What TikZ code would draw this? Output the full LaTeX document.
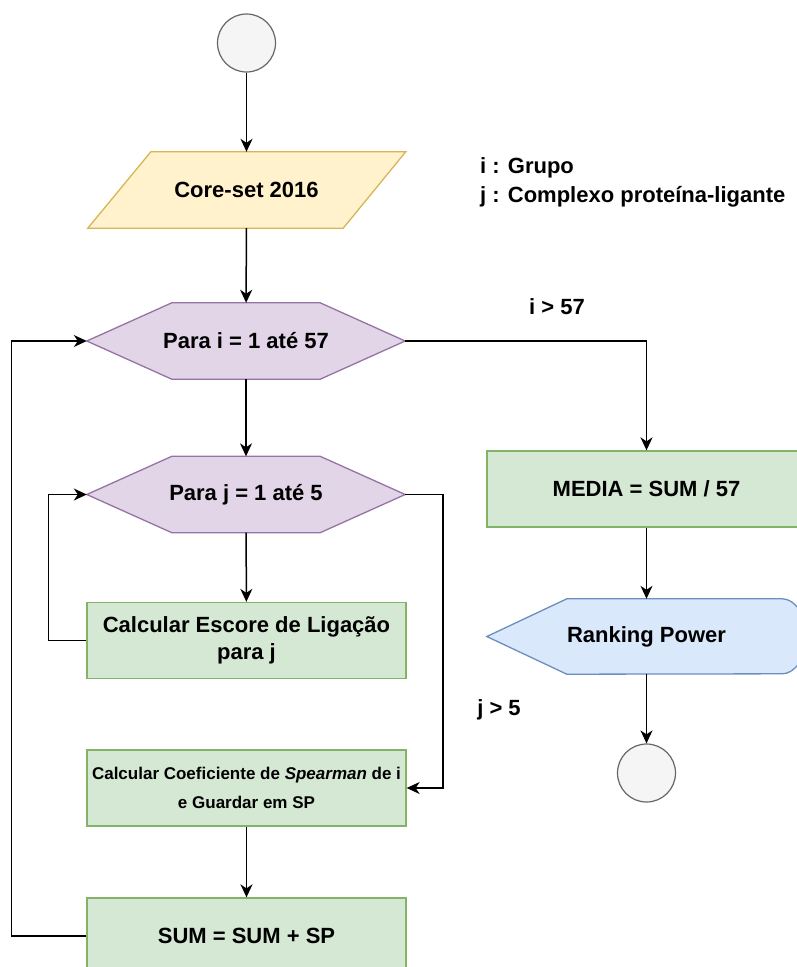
\documentclass[tikz,border=0pt]{standalone}
\usepackage{fontspec}
\setmainfont{Liberation Sans}
\usetikzlibrary{arrows.meta,backgrounds,calc}

\definecolor{termfill}{HTML}{F5F5F5}
\definecolor{termline}{HTML}{666666}
\definecolor{iofill}{HTML}{FFF2CC}
\definecolor{ioline}{HTML}{D6B656}
\definecolor{loopfill}{HTML}{E1D5E7}
\definecolor{loopline}{HTML}{9673A6}
\definecolor{procfill}{HTML}{D5E8D4}
\definecolor{procline}{HTML}{82B366}
\definecolor{outfill}{HTML}{DAE8FC}
\definecolor{outline}{HTML}{6C8EBF}

\tikzset{
  base/.style={font=\bfseries\fontsize{22}{27}\selectfont, align=center, inner sep=0pt},
  term/.style={circle, draw=termline, fill=termfill, line width=1.2pt, minimum size=58pt, inner sep=0pt},
  slot/.style={base, minimum width=318pt, minimum height=76pt},
  procbox/.style={base, rectangle, draw=procline, fill=procfill, line width=1.3pt,
    minimum width=319pt, minimum height=76pt},
  conn/.style={line width=1.5pt, -{Stealth[length=13pt,width=12pt,inset=4pt]}},
  lbl/.style={font=\bfseries\fontsize{22}{29}\selectfont, inner sep=0pt},
}

\begin{document}
\begin{tikzpicture}[x=1pt,y=-1pt]
\useasboundingbox (0,0) rectangle (797,967);

% nodes of the main column
\node[term] (start) at (246.5,43) {};
\node[slot] (core) at (246.5,190) {Core-set 2016};
\node[slot] (pi) at (246,341) {Para i = 1 até 57};
\node[slot] (pj) at (246,494.5) {Para j = 1 até 5};
\node[procbox] (esc) at (246.5,640.5) {Calcular Escore de Ligação\\para j};
\node[procbox, font=\bfseries\fontsize{17}{29}\selectfont] (sp) at (246.5,788)
  {Calcular Coeficiente de \textit{Spearman} de i\\e Guardar em SP};
\node[procbox] (sum) at (246.5,936) {SUM = SUM + SP};

% nodes of the right column
\node[procbox] (media) at (646.5,489) {MEDIA = SUM / 57};
\node[slot, minimum width=319pt, minimum height=75pt] (rank) at (646.5,636.5) {Ranking Power};
\node[term] (stop) at (646.5,773) {};

% legend and branch labels
\node[lbl, align=left, anchor=west] (legend) at (480,182.5) {i : Grupo\\j : Complexo proteína-ligante};
\node[lbl] (iout) at (557,307) {i > 57};
\node[lbl] (jout) at (499,710) {j > 5};

% outlines of the non-rectangular shapes
\begin{pgfonlayer}{background}
  \draw[fill=iofill, draw=ioline, line width=1.3pt]
    ($(core.south west)+(0.5,0)$) -- ($(core.north west)+(63.5,0)$)
    -- (core.north east) -- ($(core.south east)+(-62.5,0)$) -- cycle;
  \foreach \h in {pi,pj}{
    \draw[fill=loopfill, draw=loopline, line width=1.3pt]
      (\h.west) -- ($(\h.north west)+(85,0)$) -- ($(\h.north east)+(-85,0)$)
      -- (\h.east) -- ($(\h.south east)+(-85,0)$) -- ($(\h.south west)+(85,0)$) -- cycle;
  }
  \draw[fill=outfill, draw=outline, line width=1.3pt]
    (rank.west) -- ($(rank.north west)+(80,0)$) -- ($(rank.north east)+(-24,0)$)
    arc[start angle=90, end angle=-90, x radius=24pt, y radius=37.5pt]
    -- ($(rank.south west)+(80,0)$) -- cycle;
\end{pgfonlayer}

% connectors
\draw[conn] (start) -- (core);
\draw[conn] (core) -- (pi);
\draw[conn] (pi) -- (pj);
\draw[conn] (pj) -- (esc);
\draw[conn] (esc.west) -- ++(-38,0) |- (pj.west);
\draw[conn] (pj.east) -- ++(38,0) |- (sp.east);
\draw[conn] (sp) -- (sum);
\draw[conn] (sum.west) -- ++(-75,0) |- (pi.west);
\draw[conn] (pi.east) -| (media.north);
\draw[conn] (media) -- (rank);
\draw[conn] (rank) -- (stop);
\end{tikzpicture}
\end{document}
